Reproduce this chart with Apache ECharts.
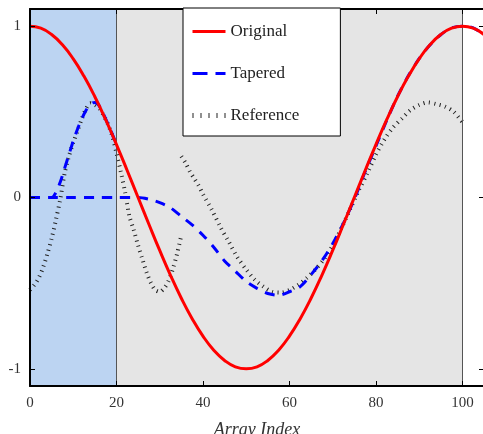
<!DOCTYPE html>
<html><head><meta charset="utf-8">
<script src="https://cdn.jsdelivr.net/npm/echarts@6/dist/echarts.min.js"></script>
<style>html,body{margin:0;padding:0;background:#fff}#c{width:483px;height:434px}</style>
</head><body><div id="c"></div>
<script>
// ---- data ----
const xTicks = [0, 20, 40, 60, 80, 100];
const yTicks = [-1, 0, 1];
const xRange = [0, 105];
const yRange = [-1.1, 1.1];
const windowEdges = [0, 20, 100];
const legendNames = ['Original', 'Tapered', 'Reference'];

const originalX = [0,2.5,5,7.5,10,12.5,15,17.5,20,22.5,25,27.5,30,32.5,35,37.5,40,42.5,45,47.5,50,52.5,55,57.5,60,62.5,65,67.5,70,72.5,75,77.5,80,82.5,85,87.5,90,92.5,95,97.5,100,102.5,105];
const originalY = [1.000,0.988,0.951,0.891,0.809,0.707,0.588,0.454,0.309,0.156,0.000,-0.156,-0.309,-0.454,-0.588,-0.707,-0.809,-0.891,-0.951,-0.988,-1.000,-0.988,-0.951,-0.891,-0.809,-0.707,-0.588,-0.454,-0.309,-0.156,0.000,0.156,0.309,0.454,0.588,0.707,0.809,0.891,0.951,0.988,1.000,0.988,0.951];

const taperedAX = [0,5,6,7,8,9,10,11,12,13,14,15,16,18,20];
const taperedAY = [0,0,0.03,0.09,0.17,0.25,0.33,0.40,0.46,0.51,0.545,0.555,0.535,0.43,0.31];

const taperedBX = [0,5,10,15,20,25,27.5,30,32.5,35,37.5,40,42.5,45,47.5,50,52.5,55,57.5,60,62.5,65,67.5,70,72.5,75,77.5,80,82.5,85,87.5,90,92.5,95,97.5,100,102.5,105];
const taperedBY = [0,0,0,0,0,0,-0.01,-0.03,-0.06,-0.11,-0.16,-0.22,-0.29,-0.37,-0.43,-0.49,-0.53,-0.56,-0.57,-0.55,-0.52,-0.45,-0.37,-0.27,-0.15,-0.01,0.15,0.30,0.45,0.59,0.71,0.81,0.89,0.95,0.99,1.00,0.99,0.95];

const referenceAX = [0,1,2,3,4,5,6,7,8,9,10,11,12,13,14,15,16,17,18,19,20,21,22,23,24,25,26,27,28,29,30,31,32,33,34,35];
const referenceAY = [-0.54,-0.51,-0.47,-0.41,-0.33,-0.24,-0.13,-0.01,0.14,0.24,0.32,0.39,0.46,0.52,0.55,0.54,0.52,0.48,0.43,0.36,0.26,0.15,0.03,-0.11,-0.19,-0.28,-0.36,-0.44,-0.50,-0.54,-0.55,-0.53,-0.49,-0.42,-0.33,-0.22];

const referenceBX = [35,36,37,38,39,40,42,44,46,48,50,52,54,56,58,60,62,64,66,68,70,72,74,76,78,80,82,84,86,88,90,92,94,96,98,100];
const referenceBY = [0.24,0.20,0.15,0.11,0.07,0.02,-0.07,-0.17,-0.26,-0.35,-0.42,-0.48,-0.52,-0.55,-0.555,-0.54,-0.51,-0.47,-0.42,-0.36,-0.28,-0.18,-0.07,0.04,0.14,0.25,0.34,0.41,0.46,0.51,0.54,0.555,0.545,0.53,0.50,0.44];

const zip = (xs, ys) => xs.map((x, i) => [x, ys[i]]);

const serif = 'Liberation Serif';
const chart = echarts.init(document.getElementById('c'), null, {renderer: 'canvas'});

const frameAxis = (extra) => Object.assign({
  type: 'value', z: 10,
  splitLine: {show: false},
  axisLine: {show: true, onZero: false, lineStyle: {color: '#000', width: 2}},
}, extra);

const redStyle = {color: '#ff0000', width: 3};
const blueStyle = {color: '#0000ff', width: 3, type: [10, 8]};
const dotStyle = {color: '#222', width: 4, type: [1, 4.5]};

chart.setOption({
  animation: false,
  backgroundColor: '#fff',
  grid: {left: 30, right: -1, top: 9, bottom: 48, containLabel: false, outerBoundsMode: 'none'},
  xAxis: [
    frameAxis({
      position: 'bottom', min: xRange[0], max: xRange[1],
      axisTick: {show: true, inside: true, length: 5, customValues: xTicks, lineStyle: {color: '#000', width: 1}},
      axisLabel: {show: true, customValues: xTicks, margin: 10, fontFamily: serif, fontSize: 15, color: '#333'},
      name: 'Array Index', nameLocation: 'middle', nameGap: 35,
      nameTextStyle: {fontFamily: serif, fontStyle: 'italic', fontSize: 18, color: '#333'}
    }),
    frameAxis({
      position: 'top', min: xRange[0], max: xRange[1],
      axisTick: {show: true, inside: true, length: 5, customValues: xTicks, lineStyle: {color: '#000', width: 1}},
      axisLabel: {show: false}
    })
  ],
  yAxis: [
    frameAxis({
      position: 'left', min: yRange[0], max: yRange[1],
      axisTick: {show: true, inside: true, length: 5, customValues: yTicks, lineStyle: {color: '#000', width: 1}},
      axisLabel: {show: true, customValues: yTicks, margin: 9, fontFamily: serif, fontSize: 15, color: '#333'}
    }),
    frameAxis({
      position: 'right', min: yRange[0], max: yRange[1],
      axisTick: {show: true, inside: true, length: 5, customValues: yTicks, lineStyle: {color: '#000', width: 1}},
      axisLabel: {show: false}
    })
  ],
  legend: {
    data: [
      {name: legendNames[0], lineStyle: {color: '#ff0000', width: 3, type: 'solid'}},
      {name: legendNames[1], lineStyle: {color: '#0000ff', width: 3, type: [15, 8]}},
      {name: legendNames[2], lineStyle: {color: '#222', width: 5, type: [1, 7]}}
    ],
    orient: 'vertical',
    left: 183, top: 8,
    backgroundColor: '#fff',
    borderColor: '#000', borderWidth: 1,
    padding: [15, 41, 12, 7],
    itemGap: 25, itemWidth: 33, itemHeight: 17,
    itemStyle: {opacity: 0, borderWidth: 0},
    textStyle: {fontFamily: serif, fontSize: 17, color: '#222'},
    z: 20
  },
  series: [
    {
      name: 'bg', type: 'line', data: [], z: 1, silent: true,
      markArea: {
        silent: true,
        data: [
          [{xAxis: windowEdges[0], itemStyle: {color: '#bcd4f2'}}, {xAxis: windowEdges[1]}],
          [{xAxis: windowEdges[1], itemStyle: {color: '#e5e5e5'}}, {xAxis: windowEdges[2]}]
        ]
      },
      markLine: {
        silent: true, symbol: 'none', label: {show: false},
        lineStyle: {color: '#555', width: 1, type: 'solid'},
        data: [{xAxis: windowEdges[1]}, {xAxis: windowEdges[2]}]
      }
    },
    {name: 'Reference', type: 'line', z: 4, data: zip(referenceAX, referenceAY), symbol: 'none', smooth: 0.3, lineStyle: dotStyle, itemStyle: {color: '#222'}},
    {name: 'Reference', type: 'line', z: 4, data: zip(referenceBX, referenceBY), symbol: 'none', smooth: 0.3, lineStyle: dotStyle, itemStyle: {color: '#222'}},
    {name: 'Tapered', type: 'line', z: 5, data: zip(taperedAX, taperedAY), symbol: 'none', smooth: 0.3, lineStyle: blueStyle, itemStyle: {color: '#0000ff'}},
    {name: 'Tapered', type: 'line', z: 5, data: zip(taperedBX, taperedBY), symbol: 'none', smooth: 0.3, lineStyle: blueStyle, itemStyle: {color: '#0000ff'}},
    {name: 'Original', type: 'line', z: 6, data: zip(originalX, originalY), symbol: 'none', smooth: true, lineStyle: redStyle, itemStyle: {color: '#ff0000'}}
  ]
});
</script>
</body></html>
